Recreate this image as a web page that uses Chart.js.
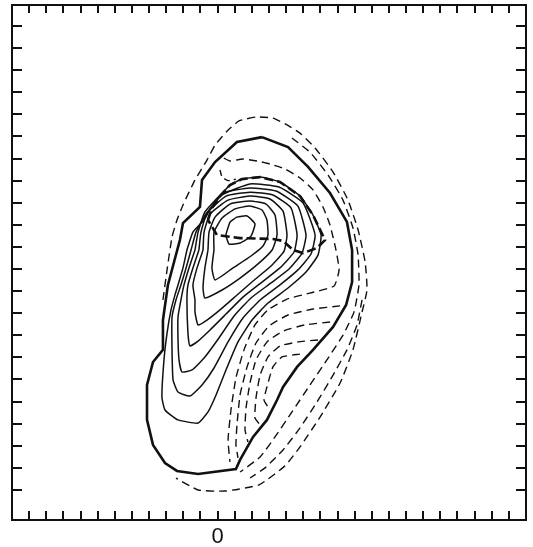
<!DOCTYPE html>
<html>
<head>
<meta charset="utf-8">
<script src="https://cdn.jsdelivr.net/npm/chart.js@4.4.0/dist/chart.umd.min.js"></script>
<style>
  html, body { margin: 0; padding: 0; background: #fff; }
</style>
</head>
<body>
<canvas id="chart" width="533" height="547"></canvas>
<script>
// axis ticks (tick units along the frame)
const xTickValues = [-11,-10,-9,-8,-7,-6,-5,-4,-3,-2,-1,0,1,2,3,4,5,6,7,8,9,10,11,12,13,14,15,16,17];
const yTickValues = [0,1,2,3,4,5,6,7,8,9,10,11,12,13,14,15,16,17,18,19,20,21];
const xLabelValues = [0];
const xLabels = ['0'];

// thick solid outer contour
const outerSolid = [[2.59,15.97],[4.11,15.52],[5.28,14.62],[6.56,13.44],[7.55,12.13],[7.85,10.86],[7.85,9.41],[7.50,8.37],[6.74,7.38],[5.57,6.34],[4.64,5.57],[3.82,4.66],[3.47,4.07],[2.88,3.17],[2.07,2.40],[1.31,1.36],[1.07,0.95],[-1.14,0.72],[-2.37,0.86],[-3.07,1.22],[-3.77,2.04],[-4.12,3.17],[-4.12,4.75],[-3.77,5.79],[-3.19,6.34],[-3.19,7.69],[-2.90,9.28],[-2.20,11.31],[-2.02,12.08],[-1.03,12.81],[-0.91,14.03],[-0.15,14.84],[1.13,15.75],[2.59,15.97]];

// thick dashed cap
const capDashed = [[-0.56,12.22],[-0.33,12.76],[0.14,13.30],[0.72,13.80],[1.42,14.07],[2.48,14.16],[3.64,13.94],[4.81,13.30],[5.57,12.44],[6.27,11.31],[5.80,10.95],[4.99,10.72],[4.40,10.86],[3.82,11.27],[3.23,11.36],[1.31,11.40],[-0.04,11.54],[-0.56,12.22]];

// thin solid contours, inner to outer
const level0 = [[0.72,12.13],[1.13,12.35],[1.72,12.40],[2.18,12.04],[1.95,11.49],[1.31,11.18],[0.67,11.13],[0.49,11.54],[0.72,12.13]];
const level1 = [[-0.21,10.86],[-0.21,11.67],[0.26,12.31],[1.02,12.72],[1.89,12.85],[2.59,12.67],[2.88,12.22],[2.94,11.54],[2.65,11.04],[1.95,10.59],[0.90,10.05],[-0.15,9.50],[-0.33,10.05],[-0.21,10.86]];
const level2 = [[-0.56,10.86],[-0.50,11.67],[-0.15,12.35],[0.72,12.94],[1.89,13.08],[2.83,12.94],[3.35,12.44],[3.47,11.54],[3.18,10.86],[2.36,10.23],[1.31,9.59],[0.26,9.05],[-0.74,8.69],[-0.85,9.14],[-0.74,10.05],[-0.56,10.86]];
const level3 = [[-0.85,10.86],[-0.79,11.67],[-0.44,12.49],[0.61,13.12],[1.89,13.30],[3.06,13.17],[3.82,12.62],[4.05,11.54],[3.88,10.81],[3.12,10.14],[2.07,9.46],[1.07,8.78],[0.14,8.15],[-0.62,7.69],[-1.14,7.47],[-1.32,8.05],[-1.32,8.60],[-1.44,9.28],[-1.20,10.05],[-0.85,10.86]];
const level4 = [[-1.09,10.86],[-0.97,11.67],[-0.62,12.53],[0.49,13.30],[1.89,13.48],[3.23,13.35],[4.29,12.76],[4.64,11.54],[4.46,10.77],[3.64,10.05],[2.59,9.41],[1.48,8.73],[0.49,7.96],[-0.44,7.24],[-1.14,6.74],[-1.61,6.52],[-1.73,7.10],[-1.79,8.60],[-1.73,9.28],[-1.44,10.05],[-1.09,10.86]];
const level5 = [[-1.32,10.86],[-1.14,11.67],[-0.74,12.58],[0.32,13.44],[1.89,13.67],[3.41,13.53],[4.69,12.85],[5.16,11.54],[4.93,10.72],[4.17,10.00],[3.12,9.37],[1.95,8.69],[0.96,7.87],[0.08,6.88],[-0.79,5.97],[-1.49,5.43],[-2.08,5.34],[-2.25,5.88],[-2.31,6.79],[-2.31,7.83],[-2.14,8.60],[-1.96,9.28],[-1.67,10.05],[-1.32,10.86]];
const level6 = [[-1.55,10.86],[-1.26,11.67],[-0.68,12.49],[0.26,13.35],[1.89,13.85],[3.58,13.71],[4.99,12.99],[5.69,11.54],[5.45,10.68],[4.69,9.96],[3.64,9.28],[2.48,8.60],[1.48,7.78],[0.61,6.70],[-0.21,5.52],[-0.91,4.75],[-1.61,4.25],[-2.31,4.43],[-2.60,4.98],[-2.66,6.34],[-2.66,7.83],[-2.43,8.60],[-2.14,9.28],[-1.84,10.05],[-1.55,10.86]];
const level7 = [[-1.79,10.86],[-1.44,11.67],[-0.79,12.22],[-0.39,12.76],[0.14,13.30],[0.72,13.80],[1.42,14.07],[2.48,14.16],[3.64,13.94],[4.81,13.30],[5.57,12.44],[6.04,11.54],[5.86,10.63],[5.16,9.86],[4.11,9.14],[2.94,8.46],[2.01,7.69],[1.19,6.70],[0.49,5.43],[-0.09,4.30],[-0.56,3.53],[-1.14,3.03],[-2.31,3.17],[-3.07,3.62],[-3.25,4.21],[-3.13,5.88],[-2.95,7.10],[-2.72,8.15],[-2.49,8.82],[-2.31,9.28],[-2.02,10.05],[-1.79,10.86]];

// thin dashed contours
const outerDashed = [[-3.19,8.60],[-2.95,9.96],[-2.66,11.45],[-2.37,12.22],[-2.02,12.90],[-1.32,14.03],[-0.62,14.93],[-0.15,15.61],[0.55,16.24],[1.25,16.70],[2.24,16.88],[3.23,16.83],[4.05,16.52],[4.81,16.15],[5.69,15.48],[6.74,14.39],[7.61,13.12],[8.20,11.77],[8.61,10.32],[8.72,9.05],[8.43,8.05],[7.90,6.34],[7.15,4.84],[5.98,3.30],[4.81,1.95],[3.93,1.09],[2.42,0.23],[0.43,-0.05],[-1.14,0],[-2.43,0.54]];
const rightDashed1 = [[4.34,15.93],[5.39,15.29],[6.45,14.25],[7.32,13.12],[7.90,11.86],[8.20,10.63],[8.25,9.28],[7.96,8.05],[7.32,7.01],[6.45,5.97],[5.39,4.75],[4.34,3.53],[3.35,2.40],[2.48,1.49],[1.31,0.81]];
const rightDashed2 = [[8.43,8.60],[8.14,7.47],[7.55,6.34],[6.74,5.20],[5.80,3.98],[4.81,2.81],[3.82,1.81],[2.77,1.00],[1.89,0.54]];
const topDashed = [[0.14,14.48],[0.26,14.17],[0.61,14.00],[1.07,14.07]];
const hook5 = [[0.37,15.02],[0.72,14.89],[1.48,14.98],[2.30,14.89],[3.06,14.75],[3.93,14.53],[4.81,14.12],[5.57,13.58],[6.15,12.81],[6.56,11.99],[6.91,10.86],[7.09,9.96],[6.80,9.23],[5.39,8.91],[4.05,8.64],[2.94,8.15],[2.18,7.47],[1.54,6.34],[1.07,5.07],[0.78,3.62],[0.61,2.26],[0.72,1.27]];
const hook4 = [[7.15,8.33],[5.57,8.19],[4.11,7.92],[3.00,7.42],[2.24,6.65],[1.72,5.57],[1.31,4.30],[1.13,2.94],[1.07,2.04],[1.19,1.45]];
const hook3 = [[6.56,7.60],[5.10,7.47],[3.82,7.19],[2.88,6.70],[2.24,5.88],[1.89,4.84],[1.66,3.71],[1.60,2.72],[1.77,2.17]];
const hook2 = [[5.86,6.79],[4.69,6.70],[3.64,6.52],[2.94,6.02],[2.48,5.20],[2.24,4.16],[2.18,3.26],[2.48,2.94]];
const hook1 = [[4.81,6.15],[3.76,6.02],[3.23,5.57],[2.88,4.66],[2.71,4.07],[3.06,3.62]];

const ink = '#111111';

function contour(points, width, dash, tension) {
    return {
        data: points.map(p => ({ x: p[0], y: p[1] })),
        showLine: true,
        borderColor: ink,
        borderWidth: width,
        borderDash: dash,
        pointRadius: 0,
        fill: false,
        tension: tension
    };
}

const framePlugin = {
    id: 'frame',
    afterDatasetsDraw(chart) {
        const ctx = chart.ctx;
        const a = chart.chartArea;
        const xs = chart.scales.x;
        const ys = chart.scales.y;
        ctx.save();
        ctx.strokeStyle = ink;
        ctx.lineWidth = 2;
        ctx.strokeRect(a.left, a.top, a.right - a.left, a.bottom - a.top);
        ctx.beginPath();
        xTickValues.forEach(v => {
            const px = Math.round(xs.getPixelForValue(v));
            ctx.moveTo(px, a.top); ctx.lineTo(px, a.top + 8);
            ctx.moveTo(px, a.bottom); ctx.lineTo(px, a.bottom - 9);
        });
        yTickValues.forEach(v => {
            const py = Math.round(ys.getPixelForValue(v));
            ctx.moveTo(a.left, py); ctx.lineTo(a.left + 10, py);
            ctx.moveTo(a.right, py); ctx.lineTo(a.right - 10, py);
        });
        ctx.stroke();
        ctx.fillStyle = ink;
        ctx.font = '22px "Liberation Sans", Arial, sans-serif';
        ctx.textAlign = 'center';
        ctx.textBaseline = 'alphabetic';
        xLabels.forEach((t, i) => {
            ctx.fillText(t, xs.getPixelForValue(xLabelValues[i]), a.bottom + 23);
        });
        ctx.restore();
    }
};

new Chart(document.getElementById('chart').getContext('2d'), {
    type: 'scatter',
    data: {
        datasets: [
            contour(outerSolid, 2.6, [], 0),
            contour(level0, 1.5, [], 0.15),
            contour(level1, 1.5, [], 0.15),
            contour(level2, 1.5, [], 0.15),
            contour(level3, 1.5, [], 0.15),
            contour(level4, 1.5, [], 0.15),
            contour(level5, 1.5, [], 0.15),
            contour(level6, 1.5, [], 0.15),
            contour(level7, 1.5, [], 0.15),
            contour(capDashed, 2.6, [9, 4], 0),
            contour(outerDashed, 1.4, [8, 5], 0.15),
            contour(rightDashed1, 1.4, [8, 5], 0.15),
            contour(rightDashed2, 1.4, [8, 5], 0.15),
            contour(topDashed, 1.4, [6, 4], 0.15),
            contour(hook5, 1.4, [8, 5], 0.15),
            contour(hook4, 1.4, [8, 5], 0.15),
            contour(hook3, 1.4, [8, 5], 0.15),
            contour(hook2, 1.4, [8, 5], 0.15),
            contour(hook1, 1.4, [8, 5], 0.15)
        ]
    },
    options: {
        responsive: false,
        animation: false,
        layout: { padding: { left: 12, right: 7, top: 5, bottom: 27 } },
        plugins: {
            legend: { display: false },
            tooltip: { enabled: false }
        },
        scales: {
            x: { type: 'linear', min: -12, max: 18, display: false },
            y: { type: 'linear', min: -1.36, max: 21.95, display: false }
        }
    },
    plugins: [framePlugin]
});
</script>
</body>
</html>
